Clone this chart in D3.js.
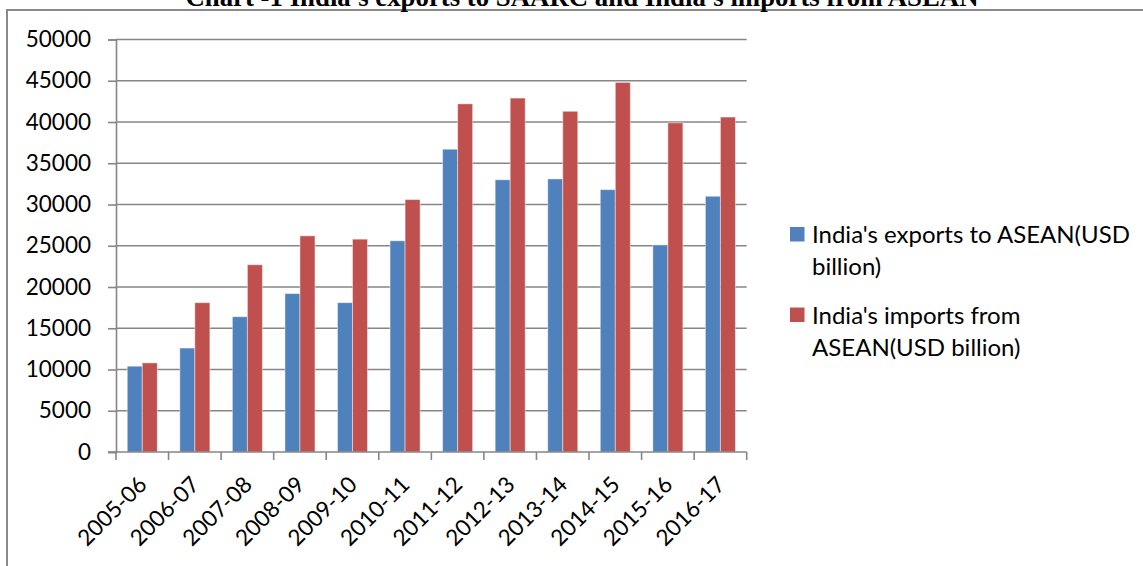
<!DOCTYPE html>
<html>
<head>
<meta charset="utf-8">
<script src="https://cdn.jsdelivr.net/npm/d3@7"></script>
<style>
    body { margin: 0; background: #fff; }
    svg { display: block; }
    text { font-family: Lato, "Open Sans", sans-serif; fill: #000; }
</style>
</head>
<body>
<div id="chart"></div>
<script>
// ----------------------------------------------
// Data
// ----------------------------------------------
var years = ["2005-06", "2006-07", "2007-08", "2008-09", "2009-10", "2010-11",
    "2011-12", "2012-13", "2013-14", "2014-15", "2015-16", "2016-17"];
var exportsAsean = [10400, 12600, 16400, 19200, 18100, 25600, 36700, 33000, 33100, 31800, 25100, 31000];
var importsAsean = [10800, 18100, 22700, 26200, 25800, 30600, 42200, 42900, 41300, 44800, 39900, 40600];
var seriesNames = ["India's exports to ASEAN(USD billion)", "India's imports from ASEAN(USD billion)"];
var legendLines = [["India's exports to ASEAN(USD", "billion)"], ["India's imports from", "ASEAN(USD billion)"]];
var yTicks = [0, 5000, 10000, 15000, 20000, 25000, 30000, 35000, 40000, 45000, 50000];
var colors = ["#4f81bd", "#c0504d"];
var title = "Chart -1 India's exports to SAARC and India's imports from ASEAN";

// ----------------------------------------------
// Basic setup
// ----------------------------------------------
var svgWidth = 1143;
var svgHeight = 566;

var plot = { left: 116, right: 746.7, top: 39.5, bottom: 452 };

var svg = d3.select("#chart")
    .append("svg")
    .attr("width", svgWidth)
    .attr("height", svgHeight);

// outer frame (only top and left edges are visible)
svg.append("path")
    .attr("d", `M7,${svgHeight} V10 H${svgWidth}`)
    .attr("fill", "none")
    .attr("stroke", "#8a8a8a")
    .attr("stroke-width", 2);

// title, mostly clipped by the top edge (as in the source image)
svg.append("text")
    .attr("x", 582)
    .attr("y", 6)
    .attr("text-anchor", "middle")
    .style("font-family", "'Liberation Serif', 'Times New Roman', serif")
    .style("font-weight", "bold")
    .style("font-size", "26.8px")
    .text(title);

// scales
var xScale = d3.scaleBand()
    .domain(years)
    .range([plot.left, plot.right])
    .padding(0);

var xInner = d3.scaleBand()
    .domain([0, 1])
    .range([0, xScale.bandwidth()])
    .paddingInner(0)
    .paddingOuter(0.75);

var yScale = d3.scaleLinear()
    .domain([0, 50000])
    .range([plot.bottom, plot.top]);

// gridlines
svg.append("g")
    .selectAll("line")
    .data(yTicks.slice(1))
    .enter()
    .append("line")
    .attr("x1", plot.left)
    .attr("x2", plot.right)
    .attr("y1", d => yScale(d))
    .attr("y2", d => yScale(d))
    .attr("stroke", "#868686")
    .attr("stroke-width", 1.6);

// y axis
var yAxis = svg.append("g")
    .attr("transform", `translate(${plot.left},0)`)
    .call(d3.axisLeft(yScale).tickValues(yTicks).tickSize(8).tickPadding(17).tickFormat(d3.format("d")));
yAxis.select(".domain").attr("stroke", "#868686").attr("stroke-width", 1.6);
yAxis.selectAll(".tick line").attr("stroke", "#868686").attr("stroke-width", 1.6);
yAxis.selectAll(".tick text")
    .style("font-family", "Lato, sans-serif")
    .style("font-size", "22.5px")
    .attr("fill", "#000");

// bars
var rows = years.map((y, i) => ({ year: y, values: [exportsAsean[i], importsAsean[i]] }));

var groups = svg.append("g")
    .selectAll("g")
    .data(rows)
    .enter()
    .append("g")
    .attr("transform", d => `translate(${xScale(d.year)},0)`);

groups.selectAll("rect")
    .data(d => d.values.map((v, k) => ({ k: k, v: v })))
    .enter()
    .append("rect")
    .attr("x", d => xInner(d.k))
    .attr("width", xInner.bandwidth())
    .attr("y", d => yScale(d.v))
    .attr("height", d => yScale(0) - yScale(d.v))
    .attr("fill", d => colors[d.k])
    .attr("stroke", "rgba(255,255,255,0.45)")
    .attr("stroke-width", 1);

// x axis: ticks at category boundaries
var xAxisG = svg.append("g");
xAxisG.append("line")
    .attr("x1", plot.left - 8)
    .attr("x2", plot.right)
    .attr("y1", plot.bottom)
    .attr("y2", plot.bottom)
    .attr("stroke", "#868686")
    .attr("stroke-width", 1.6);
var bounds = years.map(y => xScale(y)).concat([plot.right]);
xAxisG.selectAll(".xtick")
    .data(bounds)
    .enter()
    .append("line")
    .attr("x1", d => d)
    .attr("x2", d => d)
    .attr("y1", plot.bottom)
    .attr("y2", plot.bottom + 8)
    .attr("stroke", "#868686")
    .attr("stroke-width", 1.6);

xAxisG.selectAll(".xlabel")
    .data(years)
    .enter()
    .append("text")
    .attr("text-anchor", "end")
    .attr("transform", d => `translate(${xScale(d) + xScale.bandwidth() / 2 + 6},${plot.bottom + 34})rotate(-45)`)
    .style("font-size", "22.5px")
    .text(d => d);

// legend
var legend = svg.append("g");
var legendY = [227, 307.5];
seriesNames.forEach((name, i) => {
    var g = legend.append("g").attr("transform", `translate(790,${legendY[i]})`);
    g.append("rect")
        .attr("width", 14.5)
        .attr("height", 14.5)
        .attr("fill", colors[i]);
    legendLines[i].forEach((line, j) => {
        g.append("text")
            .attr("x", 22)
            .attr("y", 16 + j * 32)
            .style("font-size", "24px")
            .text(line);
    });
});
</script>
</body>
</html>
